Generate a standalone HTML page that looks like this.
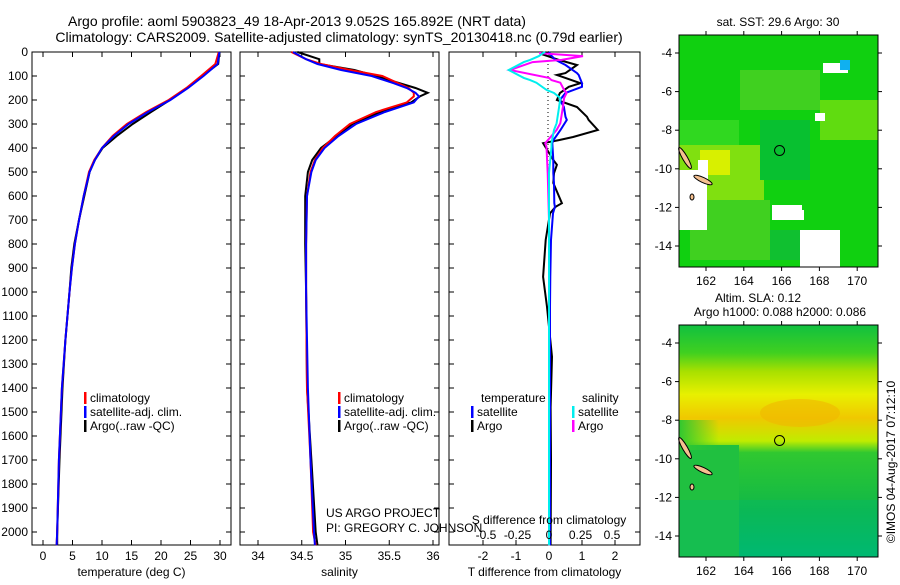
<!DOCTYPE html>
<html><head><meta charset="utf-8"><style>
body{margin:0;background:#fff}
svg{font-family:"Liberation Sans",sans-serif;font-size:12px}
</style></head><body>
<svg id="c" width="900" height="580" viewBox="0 0 900 580">
<defs>
<linearGradient id="sla" x1="0" y1="0" x2="0" y2="1">
<stop offset="0" stop-color="#10c040"/><stop offset="0.12" stop-color="#40d020"/>
<stop offset="0.2" stop-color="#a8e000"/><stop offset="0.3" stop-color="#e8f000"/>
<stop offset="0.4" stop-color="#f0c800"/><stop offset="0.5" stop-color="#c0ec00"/>
<stop offset="0.55" stop-color="#30c830"/><stop offset="0.8" stop-color="#10b848"/>
<stop offset="1" stop-color="#00b870"/></linearGradient>
<linearGradient id="slaL" x1="0" y1="0" x2="1" y2="0">
<stop offset="0" stop-color="#30c830"/><stop offset="1" stop-color="#30c830" stop-opacity="0"/></linearGradient>
</defs>
<g>
<text x="297" y="26" text-anchor="middle" font-size="14">Argo profile: aoml 5903823_49 18-Apr-2013 9.052S 165.892E (NRT data)</text>
<text x="339" y="42" text-anchor="middle" font-size="14">Climatology: CARS2009. Satellite-adjusted climatology: synTS_20130418.nc (0.79d earlier)</text>
</g>
<g id="p1"></g>
<g id="p2"></g>
<g id="p3"></g>
<g id="maps"></g>
<g id="top"></g>
</svg>
<script>
const NS="http://www.w3.org/2000/svg";
function mk(p,t,a,txt){const e=document.createElementNS(NS,t);for(const k in a)e.setAttribute(k,a[k]);if(txt!==undefined)e.textContent=txt;p.appendChild(e);return e;}
const depthTicks=[0,100,200,300,400,500,600,700,800,900,1000,1100,1200,1300,1400,1500,1600,1700,1800,1900,2000];
const tDepth=[0,50,100,150,200,250,300,350,400,450,500,600,700,800,900,1000,1200,1400,1700,2000,2055];
const tClim=[29.8,29.2,26.8,24.3,21.3,17.5,14.2,11.8,10.0,8.7,7.8,6.9,6.1,5.4,4.9,4.5,3.8,3.2,2.7,2.4,2.3];
const tSat=[29.9,29.6,27.2,24.6,21.6,17.8,14.5,12.0,10.0,8.8,7.9,6.9,6.1,5.4,4.9,4.5,3.8,3.2,2.7,2.4,2.3];
const tArgo=[29.9,29.7,27.0,24.5,21.5,18.3,15.2,12.5,10.1,8.8,7.9,7.0,6.1,5.3,4.8,4.5,3.8,3.3,2.8,2.4,2.4];
const sDepth=[0,30,50,75,100,130,150,170,185,210,250,300,350,400,450,500,600,800,1000,1400,1700,2000,2055];
const sClim=[34.38,34.55,34.72,35.05,35.42,35.6,35.72,35.78,35.78,35.7,35.35,35.05,34.88,34.74,34.65,34.6,34.56,34.55,34.55,34.56,34.6,34.63,34.66];
const sSat=[34.40,34.55,34.68,34.95,35.30,35.55,35.7,35.8,35.84,35.78,35.45,35.12,34.92,34.76,34.66,34.61,34.56,34.55,34.55,34.57,34.6,34.64,34.65];
const sArgo=[34.45,34.70,34.70,35.1,35.35,35.62,35.8,35.94,35.85,35.75,35.4,35.08,34.9,34.72,34.62,34.57,34.54,34.54,34.55,34.56,34.61,34.66,34.68];
const dTDepth=[0,12,33,54,88,96,130,145,171,200,229,270,283,325,354,367,380,450,470,505,546,630,645,672,783,937,1062,1270,1480,1700,2055];
const dTSat=[0.0,0.05,0.2,0.5,0.85,0.9,1.0,1.0,0.5,0.33,0.45,0.5,0.54,0.35,0.2,0.13,0.1,0.13,0.13,0.13,0.15,0.16,0.18,0.12,0.06,0.04,0.03,0.03,0.03,0.03,0.03];
const dTArgo=[0.0,-0.15,0.3,0.85,0.5,0.24,0.95,0.6,0.33,0.24,0.85,1.15,1.2,1.48,0.73,0.3,-0.18,0.13,0.24,0.15,0.13,0.39,0.2,0.03,-0.1,-0.18,-0.06,0.09,0.05,0.06,0.05];
const dSDepth=[0,5,17,33,42,75,108,117,128,158,171,192,229,297,325,380,395,505,700,2055];
const dSSat=[-0.03,-0.05,-0.08,-0.15,-0.2,-0.32,-0.2,-0.15,-0.1,-0.02,0.04,0.09,0.08,0.06,0.04,0.02,0.02,0.0,0.0,0.0];
const dSArgo=[-0.07,-0.07,0.27,0.1,-0.13,-0.31,0.0,0.02,0.09,0.12,0.14,0.12,0.11,0.09,0.06,-0.03,-0.02,-0.01,0.0,0.0];
const tTicks=[0,5,10,15,20,25,30];
const sTicks=[34,34.5,35,35.5,36];
const dTTicks=[-2,-1,0,1,2];
const dSTicks=[-0.5,-0.25,0,0.25,0.5];

const Y0=52,Y1=545;
const yD=d=>Y0+d*0.24;
function panel(g,x0,x1,xs,ticks,fmt,label){
  mk(g,'rect',{x:x0,y:Y0,width:x1-x0,height:Y1-Y0,fill:'#fff',stroke:'#000','stroke-width':1,});
  depthTicks.forEach(d=>{mk(g,'line',{x1:x0,x2:x0+5,y1:yD(d),y2:yD(d),stroke:'#000'});mk(g,'line',{x1:x1-5,x2:x1,y1:yD(d),y2:yD(d),stroke:'#000'});});
  if(ticks){ticks.forEach(v=>{const x=xs(v);mk(g,'line',{x1:x,x2:x,y1:Y1,y2:Y1-5,stroke:'#000'});mk(g,'line',{x1:x,x2:x,y1:Y0,y2:Y0+5,stroke:'#000'});
    const t=mk(g,'text',{x:x,y:Y1+15,'text-anchor':'middle'},fmt(v));});}
  if(label){const t=mk(g,'text',{x:(x0+x1)/2,y:576,'text-anchor':'middle'},label);}
}
function line(g,xs,depths,vals,col,w,name){
  const pts=depths.map((d,i)=>xs(vals[i]).toFixed(1)+','+yD(d).toFixed(1)).join(' ');
  const e=mk(g,'polyline',{points:pts,fill:'none',stroke:col,'stroke-width':w});
  
  
}
function legend(g,x,y,items){
  items.forEach((it,i)=>{mk(g,'rect',{x:x,y:y+i*14-10,width:2.5,height:12,fill:it[1]});
    const t=mk(g,'text',{x:x+6,y:y+i*14},it[0]);});
}
const p1=document.getElementById('p1');
const xT=v=>43+v*5.9;
panel(p1,32,231,xT,tTicks,v=>v,'temperature (deg C)');
depthTicks.forEach(d=>{const t=mk(p1,'text',{x:28,y:yD(d)+4,'text-anchor':'end'},d);});
line(p1,xT,tDepth,tArgo,'#000',2,'temp-argo-line');
line(p1,xT,tDepth,tClim,'#f00',2,'temp-climatology-line');
line(p1,xT,tDepth,tSat,'#00f',2,'temp-satellite-line');
legend(p1,84,402,[['climatology','#f00'],['satellite-adj. clim.','#00f'],['Argo(..raw -QC)','#000']]);
const p2=document.getElementById('p2');
const xS=v=>258+(v-34)*87.5;
panel(p2,240,439,xS,sTicks,v=>v,'salinity');
line(p2,xS,sDepth,sArgo,'#000',2,'sal-argo-line');
line(p2,xS,sDepth,sClim,'#f00',2,'sal-climatology-line');
line(p2,xS,sDepth,sSat,'#00f',2,'sal-satellite-line');
legend(p2,338,402,[['climatology','#f00'],['satellite-adj. clim.','#00f'],['Argo(..raw -QC)','#000']]);
const p3=document.getElementById('p3');
const xDT=v=>549+v*33, xDS=v=>549+v*126;
panel(p3,449,640,xDT,dTTicks,v=>v,'T difference from climatology');
mk(p3,'line',{x1:548,x2:548,y1:Y0,y2:170,stroke:'#000','stroke-dasharray':'1,3'});
line(p3,xDT,dTDepth,dTArgo,'#000',2,'tdiff-argo-line');
line(p3,xDT,dTDepth,dTSat,'#00f',2,'tdiff-satellite-line');
line(p3,xDS,dSDepth,dSArgo,'#f0f',2,'sdiff-argo-line');
line(p3,xDS,dSDepth,dSSat,'#0ee',2,'sdiff-satellite-line');
dSTicks.forEach(v=>{const t=mk(p3,'text',{x:xDS(v),y:539,'text-anchor':'middle'},v);});
mk(p3,'text',{x:549,y:524,'text-anchor':'middle',},'S difference from climatology');
mk(p3,'text',{x:481,y:402},'temperature');
mk(p3,'text',{x:582,y:402},'salinity');
legend(p3,471,416,[['satellite','#00f'],['Argo','#000']]);
legend(p3,572,416,[['satellite','#0ee'],['Argo','#f0f']]);
const TOP=document.getElementById('top');
mk(TOP,'text',{x:326,y:517,},'US ARGO PROJECT');
mk(TOP,'text',{x:326,y:532,},'PI: GREGORY C. JOHNSON');
// maps
const M=document.getElementById('maps');
const lonX=v=>706+(v-162)*18.9;
const lonTicks=[162,164,166,168,170], latTicks=[-4,-6,-8,-10,-12,-14];
function map(y0,fill){
  const latY=v=>y0+18+(-4-v)*19.3;
  const g=mk(M,'g',{});
  mk(g,'rect',{x:679,y:y0,width:199,height:232,fill:fill});
  return {g,latY};
}
let m1=map(35,'#10d010');
[[679,120,60,45,'#30d820'],[740,70,80,40,'#40d020'],[679,145,85,60,'#80e010'],[700,150,30,25,'#d8f000'],[820,100,58,40,'#60dc10'],[690,200,80,60,'#40d020'],[770,230,60,30,'#10c030'],[760,120,50,60,'#08c030']].forEach(r=>mk(m1.g,'rect',{x:r[0],y:r[1],width:r[2],height:r[3],fill:r[4]}));
[[679,170,28,60],[698,160,10,20],[772,205,30,15],[786,210,18,10],[800,230,40,37],[823,63,25,10],[815,113,10,8]].forEach(r=>mk(m1.g,'rect',{x:r[0],y:r[1],width:r[2],height:r[3],fill:'#fff'}));
mk(m1.g,'rect',{x:840,y:60,width:10,height:10,fill:'#10b0f0'});
let m2=map(325,'url(#sla)');
mk(m2.g,'rect',{x:679,y:445,width:60,height:112,fill:'#20c040'});
mk(m2.g,'rect',{x:679,y:420,width:40,height:30,fill:'url(#slaL)'});
mk(m2.g,'ellipse',{cx:800,cy:413,rx:40,ry:14,fill:'#f0b800',opacity:0.6});
mk(m2.g,'ellipse',{cx:760,cy:430,rx:25,ry:40,fill:'#60d020',opacity:0});
mk(m2.g,'rect',{x:679,y:500,width:199,height:57,fill:'#00b878',opacity:0.3});
[[m1,35],[m2,325]].forEach(([m,y0])=>{
  const g=m.g;
  [[685,158,2.5,12,-30],[703,180,10,2.5,25],[692,197,2,3,0]].forEach(i=>mk(g,'ellipse',{cx:i[0],cy:y0-35+i[1],rx:i[2],ry:i[3],fill:'#f5c090',stroke:'#000',transform:`rotate(${i[4]} ${i[0]} ${y0-35+i[1]})`}));
  mk(g,'circle',{cx:lonX(165.892),cy:m.latY(-9.052),r:5,fill:'none',stroke:'#000',});
  mk(g,'rect',{x:679,y:y0,width:199,height:232,fill:'none',stroke:'#000'});
  lonTicks.forEach(v=>{mk(g,'line',{x1:lonX(v),x2:lonX(v),y1:y0,y2:y0-4,stroke:'#000'});mk(g,'line',{x1:lonX(v),x2:lonX(v),y1:y0+232,y2:y0+236,stroke:'#000'});
    const t=mk(g,'text',{x:lonX(v),y:y0+250,'text-anchor':'middle'},v);});
  latTicks.forEach(v=>{mk(g,'line',{x1:675,x2:679,y1:m.latY(v),y2:m.latY(v),stroke:'#000'});mk(g,'line',{x1:878,x2:882,y1:m.latY(v),y2:m.latY(v),stroke:'#000'});
    const t=mk(g,'text',{x:672,y:m.latY(v)+4,'text-anchor':'end'},v);});
});
mk(M,'text',{x:778,y:26,'text-anchor':'middle',},'sat. SST: 29.6 Argo: 30');
mk(M,'text',{x:758,y:302,'text-anchor':'middle',},'Altim. SLA: 0.12');
mk(M,'text',{x:780,y:316,'text-anchor':'middle',},'Argo h1000: 0.088 h2000: 0.086');
mk(M,'text',{x:895,y:462,'text-anchor':'middle',transform:'rotate(-90 895 462)',},'©IMOS 04-Aug-2017 07:12:10');
</script>
</body></html>
